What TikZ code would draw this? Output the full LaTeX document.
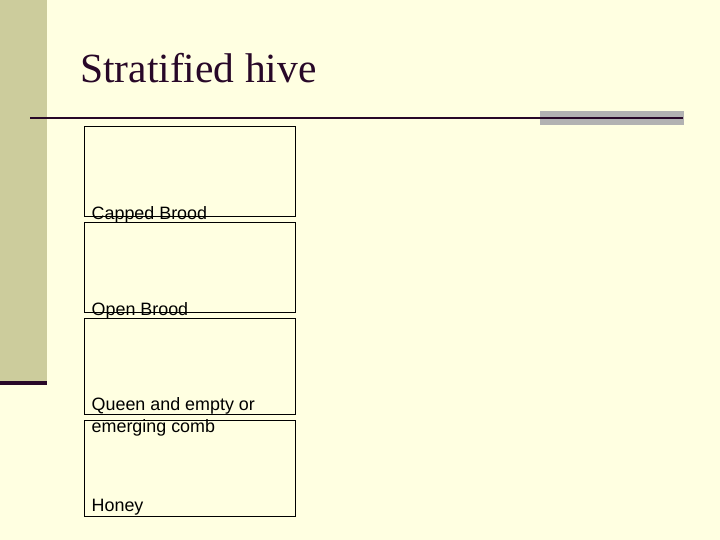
\documentclass[tikz,border=0pt]{standalone}
\usepackage{fontspec}
\setmainfont{Liberation Serif}
\newfontfamily\arialfont{Liberation Sans}
\definecolor{slidebg}{RGB}{255,255,225}
\definecolor{sidebar}{RGB}{204,204,156}
\definecolor{darkplum}{RGB}{40,8,40}
\definecolor{bargray}{RGB}{178,178,178}

\begin{document}
\begin{tikzpicture}[x = 1pt, y = -1pt]
    \tikzstyle{hivebox} = [draw, inner sep = 0pt, minimum width = 211pt, minimum height = 90pt];
    \tikzstyle{layer} = [inner sep = 0pt, anchor = base west, font = \arialfont\fontsize{17.9}{21}\selectfont];
    \useasboundingbox (0,0) rectangle (720,540);
    \fill[slidebg] (0,0) rectangle (720,540);
    \fill[sidebar] (0,0) rectangle (47,382);
    \fill[darkplum] (0,381) rectangle (47,384.5);
    \fill[bargray] (540,111) rectangle (684,125.5);
    \draw[darkplum, line width = 2pt] (30,118) -- (683,118);
    \node[inner sep = 0pt, anchor = base west, text = darkplum, font = \fontsize{41.5}{48}\selectfont] (title) at (80,83) {Stratified hive};
    \node[hivebox] (capped) at (189.5,171.3) {};
    \node[hivebox] (open) at (189.5,267.3) {};
    \node[hivebox, minimum height = 96pt] (queen) at (189.5,366) {};
    \node[hivebox, minimum height = 96pt] (honey) at (189.5,468) {};
    \node[layer] (cappedtxt) at (91.5,219) {Capped Brood};
    \node[layer] (opentxt) at (91.5,315) {Open Brood};
    \node[layer] (queentxt) at (91.5,410.5) {Queen and empty or};
    \node[layer] (combtxt) at (91.5,432.5) {emerging comb};
    \node[layer] (honeytxt) at (91.5,511.5) {Honey};
\end{tikzpicture}
\end{document}
